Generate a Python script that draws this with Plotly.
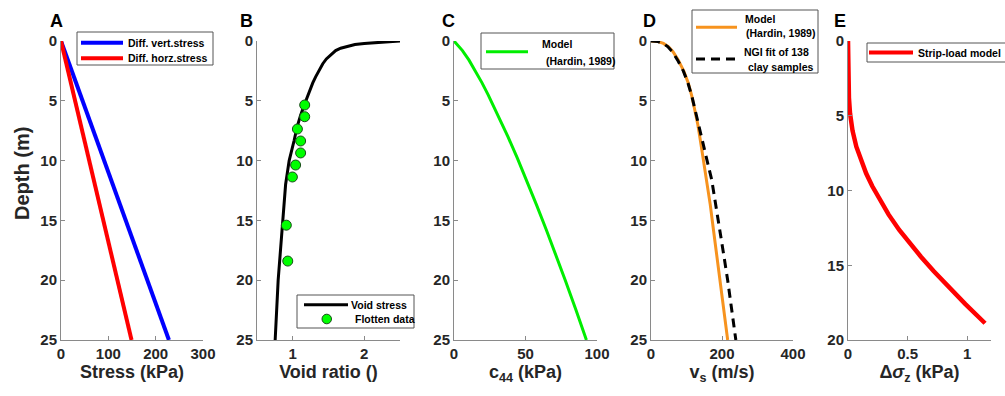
import plotly.graph_objects as go

# ---------------- data ----------------
# Panel A: differential stresses
depth_a = [0, 25]
vert_stress = [0, 228]
horz_stress = [0, 149]

# Panel B: void ratio curve and Flotten data
depth_void = [0, 0.04, 0.08, 0.13, 0.2, 0.3, 0.45, 0.6, 0.8, 1.0, 1.2, 1.5, 1.9, 2.4, 3.0, 3.5, 4.1, 4.6, 5.2, 6.2, 7.2,
              8.3, 10, 12, 15, 18, 20, 22.5, 25]
void_ratio = [2.5, 2.38, 2.25, 2.12, 2.0, 1.87, 1.75, 1.67, 1.6, 1.56, 1.53, 1.47, 1.42, 1.37, 1.32, 1.28, 1.24, 1.2,
              1.17, 1.11, 1.06, 1.02, 0.95, 0.9, 0.857, 0.815, 0.796, 0.775, 0.754]
flotten_depth = [5.35, 6.33, 7.36, 8.36, 9.36, 10.37, 11.37, 15.4, 18.4]
flotten_e = [1.167, 1.167, 1.065, 1.11, 1.11, 1.04, 0.995, 0.91, 0.93]

# Panel C: c44 model
depth_c = [0, 0.3, 0.8, 1.6, 2.5, 3.5, 4.5, 5.5, 6.7, 8.0, 9.8, 11.6, 13.7, 15.8, 17.9, 20, 22.5, 25]
c44 = [0, 2.4, 5.9, 10.5, 15.0, 19.6, 23.9, 28.0, 32.7, 37.7, 44.3, 50.6, 57.7, 64.6, 71.3, 77.8, 85.3, 92.6]

# Panel D: shear-wave velocity
depth_d = [0, 0.05, 0.2, 0.47, 0.9, 1.6, 2.5, 3.5, 4.6, 5.8, 7.0, 8.3, 10, 11.6, 13.7, 15.8, 17.9, 20, 22.5, 25]
vs_model = [0, 20, 35, 49, 62, 77, 92, 105, 115, 124, 132, 139, 148, 157, 167, 176, 185, 194, 205, 216]
vs_ngi = [0, 20, 34, 47, 60, 75, 91, 104, 115, 125, 135, 145, 158, 171, 183, 194, 205, 216, 228, 239]

# Panel E: strip-load model
depth_e = [0, 1.3, 2.6, 3.8, 4.84, 6.0, 7.07, 8.0, 8.85, 9.7, 10.64, 11.6, 12.64, 13.5, 14.43, 15.4, 16.44, 17.6, 18.88]
dsigma = [0, 0.001, 0.003, 0.008, 0.017, 0.038, 0.07, 0.108, 0.152, 0.203, 0.267, 0.34, 0.43, 0.514, 0.612, 0.72,
          0.84, 0.985, 1.15]

# axis settings
x_ranges = [[0, 300], [0.5, 2.5], [0, 100], [0, 400], [0, 1.2]]
x_ticks = [[0, 100, 200, 300], [1, 2], [0, 50, 100], [0, 200, 400], [0, 0.5, 1]]
y_ranges = [[25, 0], [25, 0], [25, 0], [25, 0], [20, 0]]
y_ticks = [[0, 5, 10, 15, 20, 25]] * 4 + [[0, 5, 10, 15, 20]]
x_titles = ["Stress (kPa)", "Void ratio ()", "c<sub>44</sub> (kPa)",
            "v<sub>s</sub> (m/s)", "Δ<i>σ</i><sub>z</sub> (kPa)"]
y_title = "Depth (m)"
panel_letters = ["A", "B", "C", "D", "E"]

W, H = 1005, 396
left_px = [61, 257, 454, 651, 848]
right_px = [203, 400, 597, 793, 991]
top_px, bot_px = 41, 340


def px(x):
    return x / W


def py(y):
    return 1 - y / H


FONT = "Liberation Sans, Arial, sans-serif"
TXT = "#262626"
AX = "#8a8a8a"

fig = go.Figure()

fig.add_trace(go.Scatter(x=vert_stress, y=depth_a, mode="lines", line=dict(color="#0000FF", width=4),
                         xaxis="x", yaxis="y", showlegend=False))
fig.add_trace(go.Scatter(x=horz_stress, y=depth_a, mode="lines", line=dict(color="#FF0000", width=4),
                         xaxis="x", yaxis="y", showlegend=False))
fig.add_trace(go.Scatter(x=void_ratio, y=depth_void, mode="lines", line=dict(color="black", width=3),
                         xaxis="x2", yaxis="y2", showlegend=False))
fig.add_trace(go.Scatter(x=flotten_e, y=flotten_depth, mode="markers",
                         marker=dict(color="#00FF00", size=10, line=dict(color="#1a4d1a", width=1)),
                         xaxis="x2", yaxis="y2", showlegend=False))
fig.add_trace(go.Scatter(x=c44, y=depth_c, mode="lines", line=dict(color="#00EE00", width=3),
                         xaxis="x3", yaxis="y3", showlegend=False))
fig.add_trace(go.Scatter(x=vs_model, y=depth_d, mode="lines", line=dict(color="#F7931E", width=3),
                         xaxis="x4", yaxis="y4", showlegend=False))
fig.add_trace(go.Scatter(x=vs_ngi, y=depth_d, mode="lines", line=dict(color="black", width=3, dash="9px,6px"),
                         xaxis="x4", yaxis="y4", showlegend=False))
fig.add_trace(go.Scatter(x=dsigma, y=depth_e, mode="lines", line=dict(color="#FF0000", width=4.5),
                         xaxis="x5", yaxis="y5", showlegend=False))

layout = dict(width=W, height=H, margin=dict(l=0, r=0, t=0, b=0, autoexpand=False),
              paper_bgcolor="white", plot_bgcolor="white", showlegend=False,
              font=dict(family=FONT, color=TXT))

for i in range(5):
    sx = "" if i == 0 else str(i + 1)
    layout["xaxis" + sx] = dict(
        domain=[px(left_px[i]), px(right_px[i])], anchor="y" + sx, range=x_ranges[i],
        tickvals=x_ticks[i], ticks="inside", ticklen=4, tickcolor=AX, showline=True,
        linecolor=AX, linewidth=1, showgrid=False, zeroline=False, automargin=False,
        tickfont=dict(size=15, weight="bold", color=TXT, family=FONT),
        title=dict(text=x_titles[i], font=dict(size=18, weight="bold", color=TXT, family=FONT), standoff=4),
    )
    layout["yaxis" + sx] = dict(
        domain=[py(bot_px), py(top_px)], anchor="x" + sx, range=y_ranges[i],
        tickvals=y_ticks[i], ticks="inside", ticklen=4, tickcolor=AX, showline=True,
        linecolor=AX, linewidth=1, showgrid=False, zeroline=False, automargin=False,
        tickfont=dict(size=15, weight="bold", color=TXT, family=FONT),
    )

annotations = []
# y-axis title of panel A (placed as in the reference)
annotations.append(dict(text=y_title, x=px(22), y=py(174), xref="paper", yref="paper", showarrow=False,
                        textangle=-90, xanchor="center", yanchor="middle",
                        font=dict(size=20, weight="bold", color=TXT, family=FONT)))

letter_x = [56, 246, 448, 649, 840]
for i, L in enumerate(panel_letters):
    annotations.append(dict(text=L, x=px(letter_x[i]), y=py(21), xref="paper", yref="paper",
                            showarrow=False, xanchor="center", yanchor="middle",
                            font=dict(size=18, weight="bold", color="black", family=FONT)))

shapes = []


def box(x0, y0, x1, y1):
    shapes.append(dict(type="rect", xref="paper", yref="paper", x0=px(x0), x1=px(x1), y0=py(y1), y1=py(y0),
                       line=dict(color="#555555", width=1), fillcolor="white", layer="above"))


def seg(x0, x1, y, color, width, dash="solid"):
    shapes.append(dict(type="line", xref="paper", yref="paper", x0=px(x0), x1=px(x1), y0=py(y), y1=py(y),
                       line=dict(color=color, width=width, dash=dash), layer="above"))


def label(text, x, y):
    annotations.append(dict(text=text, x=px(x), y=py(y), xref="paper", yref="paper", showarrow=False,
                            xanchor="left", yanchor="middle",
                            font=dict(size=10.5, weight="bold", color="black", family=FONT)))


# Legend A
box(77, 32, 213, 65)
seg(81, 123, 42.7, "#0000FF", 4)
label("Diff. vert.stress", 126, 42.7)
seg(81, 123, 58.3, "#FF0000", 4)
label("Diff. horz.stress", 126, 58.3)

# Legend B
box(297, 295, 414, 328)
seg(304, 348, 304.7, "black", 3)
label("Void stress", 349, 304.7)
shapes.append(dict(type="circle", xref="paper", yref="paper", x0=px(322), x1=px(331.5), y0=py(323.8), y1=py(314.2),
                   fillcolor="#00FF00", line=dict(color="#1a4d1a", width=1), layer="above"))
label("Flotten data", 353, 319)

# Legend C
box(481, 33, 614, 69)
seg(486, 528, 51.7, "#00EE00", 3)
label("Model", 540, 44.5)
label("(Hardin, 1989)", 544, 61.5)

# Legend D
box(692, 10, 818, 73)
seg(696, 737, 27.3, "#F7931E", 3)
label("Model", 742.5, 19.5)
label("(Hardin, 1989)", 744, 32.5)
seg(696, 737, 59, "black", 3, "9px,6px")
label("NGI fit of 138", 741.5, 51.5)
label("clay samples", 745.5, 66.5)

# Legend E
box(867, 43, 1012, 62)
seg(869, 913, 52.5, "#FF0000", 4)
label("Strip-load model", 916, 52.5)

layout["annotations"] = annotations
layout["shapes"] = shapes

fig.update_layout(**layout)
fig.write_html("out.html", config={"displayModeBar": False},
               post_script="document.body.style.margin='0';document.body.style.padding='0';")
